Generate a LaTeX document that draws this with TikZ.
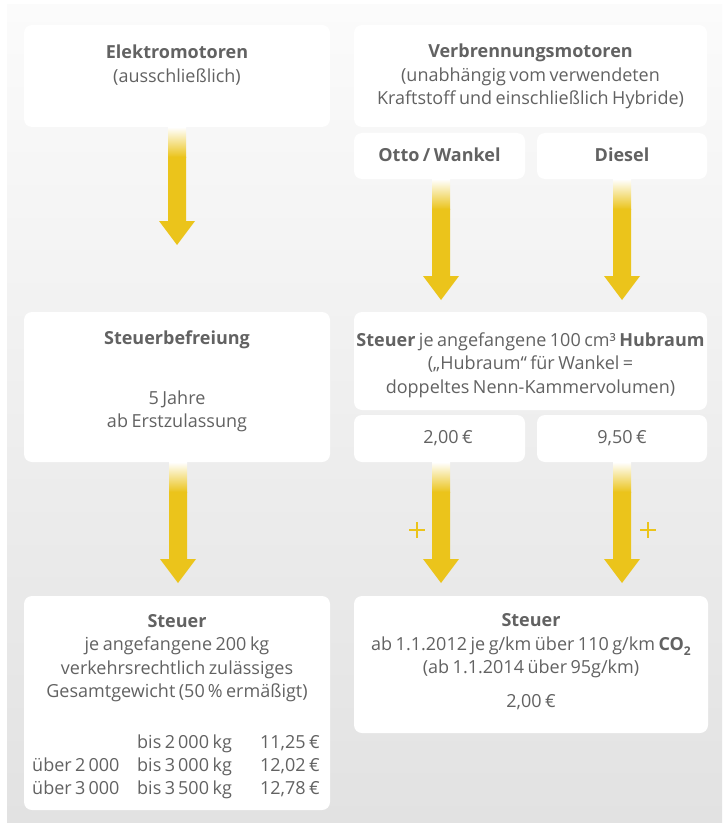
\documentclass[tikz,border=0pt]{standalone}
\usepackage{fontspec}
\setmainfont{Open Sans}[WordSpace=0.75]
\usetikzlibrary{calc}
\definecolor{ay}{RGB}{235,196,27}
\definecolor{txt}{RGB}{98,98,98}
\definecolor{bgtop}{RGB}{251,251,251}
\definecolor{bgbot}{RGB}{226,226,226}
\tikzset{
  box/.style={fill=white, rounded corners=8pt, draw=none, inner sep=0pt},
  lbl/.style={text=txt, font=\fontsize{18}{23.5}\selectfont, align=center, inner sep=0pt},
  cell/.style={text=txt, font=\fontsize{18}{22}\selectfont, inner sep=0pt},
  plusline/.style={draw=ay, line width=2pt}
}
\newcommand\yarrow[2]{%
  \shade[top color=white, bottom color=ay] let \p1=(#1), \p2=(#2) in
    (\x2-9pt,\y1) rectangle (\x2+9pt,\y1-30pt);
  \fill[ay] let \p1=(#1), \p2=(#2) in
    (\x2-9pt,\y1-29.6pt) -- (\x2-9pt,\y2+24pt) -- (\x2-18pt,\y2+24pt) -- (\x2,\y2)
    -- (\x2+18pt,\y2+24pt) -- (\x2+9pt,\y2+24pt) -- (\x2+9pt,\y1-29.6pt) -- cycle;
}
\newcommand\plusmark[1]{%
  \draw[plusline] ($(#1)+(-8,0)$) -- ($(#1)+(8,0)$);
  \draw[plusline] ($(#1)+(0,-8)$) -- ($(#1)+(0,8)$);
}
\begin{document}
\begin{tikzpicture}[x=1pt,y=-1pt]
\useasboundingbox (0,0) rectangle (727,824);
\fill[white] (0,0) rectangle (727,824);
\shade[top color=bgtop, bottom color=bgbot] (7,5) rectangle (722,822);

% boxes
\node[box, minimum width=306pt, minimum height=102pt] (elek) at (177,76) {};
\node[box, minimum width=353pt, minimum height=102pt] (verb) at (530.5,76) {};
\node[box, minimum width=171pt, minimum height=46pt] (otto) at (439.5,156) {};
\node[box, minimum width=170pt, minimum height=46pt] (dies) at (622,156) {};
\node[box, minimum width=306pt, minimum height=150pt] (befr) at (177,387) {};
\node[box, minimum width=353pt, minimum height=98pt] (hub) at (530.5,361) {};
\node[box, minimum width=171pt, minimum height=47pt] (pa) at (439.5,438.5) {};
\node[box, minimum width=170pt, minimum height=47pt] (pb) at (622,438.5) {};
\node[box, minimum width=306pt, minimum height=214pt] (bl) at (177,703) {};
\node[box, minimum width=354pt, minimum height=137pt] (br) at (531,664.5) {};

% arrow tips
\coordinate (t1) at (177,245);
\coordinate (t2) at (441,300);
\coordinate (t3) at (622,300);
\coordinate (t4) at (178,583);
\coordinate (t5) at (441,583);
\coordinate (t6) at (622,583);
\yarrow{elek.south}{t1}
\yarrow{otto.south}{t2}
\yarrow{dies.south}{t3}
\yarrow{befr.south}{t4}
\yarrow{pa.south}{t5}
\yarrow{pb.south}{t6}
\coordinate (pl1) at (417,530);
\coordinate (pl2) at (648,530);
\plusmark{pl1}
\plusmark{pl2}

% texts
\node[lbl] (telek) at (177,65) {\textbf{Elektromotoren}\\(ausschließlich)};
\node[lbl] (tverb) at (530.5,76.5) {\textbf{Verbrennungsmotoren}\\(unabhängig vom verwendeten\\Kraftstoff und einschließlich Hybride)};
\node[lbl] (totto) at (439.5,155) {\textbf{Otto / Wankel}};
\node[lbl] (tdies) at (622,155) {\textbf{Diesel}};
\node[lbl] (tbefr) at (177,340) {\textbf{Steuerbefreiung}};
\node[lbl] (tjahre) at (177,411.5) {5 Jahre\\ab Erstzulassung};
\node[lbl] (thub) at (530.5,365) {\textbf{Steuer} je angefangene 100 cm³ \textbf{Hubraum}\\(„Hubraum“ für Wankel =\\doppeltes Nenn-Kammervolumen)};
\node[lbl] (tpa) at (448,438) {2,00 €};
\node[lbl] (tpb) at (622,438) {9,50 €};
\node[lbl] (tbl) at (177,658) {\textbf{Steuer}\\je angefangene 200 kg\\verkehrsrechtlich zulässiges\\Gesamtgewicht (50\,\% ermäßigt)};
\node[cell, anchor=base west] (b2) at (137,748) {bis 2\,000 kg};
\node[cell, anchor=base east] (c1) at (320,748) {11,25 €};
\node[cell, anchor=base west] (a2) at (32,771) {über 2\,000};
\node[cell, anchor=base west] (b3) at (137,771) {bis 3\,000 kg};
\node[cell, anchor=base east] (c2) at (320,771) {12,02 €};
\node[cell, anchor=base west] (a3) at (32,794) {über 3\,000};
\node[cell, anchor=base west] (b4) at (137,794) {bis 3\,500 kg};
\node[cell, anchor=base east] (c3) at (320,794) {12,78 €};
\node[lbl] (tbr) at (531,646) {\textbf{Steuer}\\ab 1.1.2012 je g/km über 110 g/km \textbf{CO\raisebox{-0.3em}{\fontsize{12}{12}\selectfont 2}}\\(ab 1.1.2014 über 95g/km)};
\node[lbl] (tbr2) at (531,702) {2,00 €};
\end{tikzpicture}
\end{document}
